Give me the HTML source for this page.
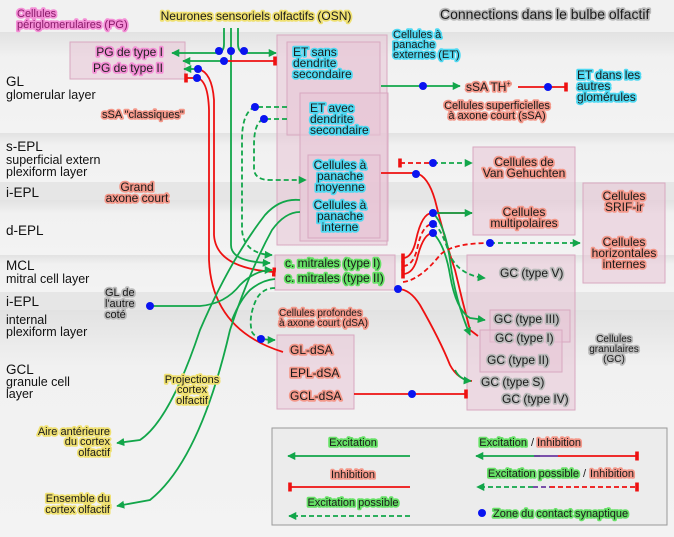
<!DOCTYPE html>
<html><head><meta charset="utf-8"><style>
html,body{margin:0;padding:0;background:#efefef}
svg{display:block}
text{font-family:"Liberation Sans",sans-serif;font-size:11px;fill:#1a1a1a}
.g{paint-order:stroke;stroke-width:3.5px;stroke-linejoin:round}
.pk{stroke:#f48fd6;fill:#8a1a6a}
.ye{stroke:#efe070}
.cy{stroke:#4fd9f2}
.gr{stroke:#66e066}
.sa{stroke:#f3988a}
.gy{stroke:#bbbbbb}
.lay{font-size:13.5px;fill:#111}
.lay2{font-size:12.5px;fill:#111}
.box{fill:#e8c4d6;fill-opacity:.55;stroke:#d8a8c0;stroke-width:1}
.ge{stroke:#12a64a;stroke-width:1.8;fill:none}
.rd{stroke:#ee1111;stroke-width:1.8;fill:none}
.dg{stroke:#12a64a;stroke-width:1.8;fill:none;stroke-dasharray:5 3}
.dr{stroke:#ee1111;stroke-width:1.8;fill:none;stroke-dasharray:5 3}
</style></head><body>
<svg width="674" height="537" viewBox="0 0 674 537" xmlns="http://www.w3.org/2000/svg">
<defs>
<linearGradient id="bg" x1="0" y1="0" x2="0" y2="1"><stop offset="0" stop-color="#e2e2e2"/><stop offset=".25" stop-color="#f1f1f1"/><stop offset="1" stop-color="#f3f3f3"/></linearGradient>
<marker id="ag" viewBox="0 0 10 10" refX="9" refY="5" markerWidth="4.5" markerHeight="4.5" orient="auto"><path d="M0 0L10 5L0 10z" fill="#12a64a"/></marker>
<marker id="tr" viewBox="0 0 4 10" refX="2" refY="5" markerWidth="2" markerHeight="5" orient="auto"><rect x="0" y="0" width="4" height="10" fill="#ee1111"/></marker>
</defs>
<rect width="674" height="537" fill="#f0f0f0"/>
<rect x="0" y="0" width="674" height="32" fill="#f1f1f1"/>
<rect x="0" y="32" width="674" height="101" fill="url(#bg)"/>
<rect x="0" y="133" width="674" height="49" fill="url(#bg)"/>
<rect x="0" y="182" width="674" height="18" fill="#e6e6e6"/>
<rect x="0" y="200" width="674" height="55" fill="url(#bg)"/>
<rect x="0" y="255" width="674" height="37" fill="url(#bg)"/>
<rect x="0" y="292" width="674" height="18" fill="#e6e6e6"/>
<rect x="0" y="310" width="674" height="227" fill="url(#bg)"/>

<!-- layer labels -->
<text x="6" y="86" class="lay">GL</text><text x="6" y="99" class="lay2">glomerular layer</text>
<text x="6" y="151" class="lay">s-EPL</text><text x="6" y="164" class="lay2">superficial extern</text><text x="6" y="176" class="lay2">plexiform layer</text>
<text x="6" y="197" class="lay">i-EPL</text>
<text x="6" y="235" class="lay">d-EPL</text>
<text x="6" y="270" class="lay">MCL</text><text x="6" y="283" class="lay2">mitral cell layer</text>
<text x="6" y="306" class="lay">i-EPL</text>
<text x="6" y="324" class="lay2">internal</text><text x="6" y="336" class="lay2">plexiform layer</text>
<text x="6" y="374" class="lay">GCL</text><text x="6" y="386" class="lay2">granule cell</text><text x="6" y="398" class="lay2">layer</text>

<!-- boxes -->
<rect x="70" y="42" width="115" height="37" class="box"/>
<rect x="277" y="35" width="110" height="210" class="box"/>
<rect x="287" y="42" width="93" height="93" class="box"/>
<rect x="300" y="93" width="88" height="148" class="box"/>
<rect x="308" y="155" width="72" height="83" class="box"/>
<rect x="473" y="147" width="102" height="88" class="box"/>
<rect x="583" y="183" width="82" height="100" class="box"/>
<rect x="275" y="255" width="120" height="35" class="box"/>
<rect x="467" y="255" width="108" height="155" class="box"/>
<rect x="490" y="310" width="80" height="32" class="box"/>
<rect x="480" y="330" width="82" height="42" class="box"/>
<rect x="277" y="335" width="77" height="74" class="box"/>
<rect x="272" y="428" width="395" height="97" fill="#ececec" stroke="#999" stroke-width="1"/>

<!-- connections -->
<path d="M224 28V44Q224 53 216 53H172" class="ge" marker-end="url(#ag)"/>
<path d="M238 28V44Q238 53 246 53H276" class="ge" marker-end="url(#ag)"/>
<path d="M231 28V245Q231 262 270 263" class="ge" marker-end="url(#ag)"/>
<path d="M224 61H183" class="ge" marker-end="url(#ag)"/>
<path d="M224 61H275" class="rd" marker-end="url(#tr)"/>
<path d="M198 69H184" class="ge" marker-end="url(#ag)"/>
<path d="M198 78H186" class="rd" marker-end="url(#tr)"/>
<path d="M198 69Q212 72 214 100V235Q216 268 274 272" class="rd" marker-end="url(#tr)"/>
<path d="M197 78Q208 80 209 110V260Q212 330 283 352" class="rd"/>
<path d="M287 107H255Q242 112 242 140V230Q244 254 272 255" class="dg" marker-end="url(#ag)"/>
<path d="M287 119H264Q254 122 254 145V168Q254 180 270 180H306" class="dg" marker-end="url(#ag)"/>
<path d="M381 86H460" class="ge" marker-end="url(#ag)"/>
<path d="M518 87H566" class="rd" marker-end="url(#tr)"/>
<!-- panache interne to projections -->
<path d="M300 200Q280 198 265 215Q230 260 200 330Q170 420 140 440L117 443" class="ge" marker-end="url(#ag)"/>
<path d="M300 212Q285 212 272 230Q250 270 230 330Q200 460 150 500L117 506" class="ge" marker-end="url(#ag)"/>
<path d="M275 279Q262 280 250 290Q240 300 232 320" class="ge"/>
<path d="M150 306H200Q225 304 240 285Q255 270 272 270" class="ge" marker-end="url(#ag)"/>
<path d="M275 288Q262 288 256 300Q248 318 252 332Q256 340 275 340" class="dg" marker-end="url(#ag)"/>
<!-- right side of mitrals -->
<path d="M400 163H433" class="dr" marker-start="url(#tr)"/>
<path d="M433 163H472" class="dg" marker-end="url(#ag)"/>
<path d="M381 173H416Q428 176 435 200Q445 240 455 270Q462 300 470 330L478 336" class="rd"/>
<path d="M403 258Q412 258 416 240Q422 212 433 213H472" class="rd" marker-start="url(#tr)"/>
<path d="M433 213H472" class="ge" marker-end="url(#ag)"/>
<path d="M403 266Q414 266 418 245Q423 224 433 224" class="dr" marker-start="url(#tr)"/>
<path d="M403 274Q414 274 418 255Q424 233 433 233" class="rd" marker-start="url(#tr)"/>
<path d="M433 224Q440 226 448 250Q456 275 485 278" class="dg" marker-end="url(#ag)"/>
<path d="M433 233Q445 245 450 275Q456 310 470 318L485 320" class="ge" marker-end="url(#ag)"/>
<path d="M433 213Q445 225 450 260Q455 300 470 335" class="ge" marker-end="url(#ag)"/>
<path d="M403 282Q420 280 440 255Q452 243 490 243" class="dr"/>
<path d="M490 243H580" class="dg" marker-end="url(#ag)"/>
<path d="M398 289Q410 289 420 305Q440 340 450 365Q458 380 472 381" class="rd"/>
<path d="M455 370Q460 380 471 381" class="ge" marker-end="url(#ag)"/>
<path d="M354 394H466" class="rd" marker-end="url(#tr)"/>

<!-- dots -->
<g fill="#0a14f0">
<circle cx="219" cy="51" r="4"/><circle cx="231" cy="51" r="4"/><circle cx="244" cy="51" r="4"/><circle cx="224" cy="61" r="4"/>
<circle cx="198" cy="69" r="4"/><circle cx="197" cy="78" r="4"/>
<circle cx="255" cy="107" r="4"/><circle cx="264" cy="119" r="4"/>
<circle cx="423" cy="86" r="4"/><circle cx="548" cy="87" r="4"/>
<circle cx="433" cy="163" r="4"/><circle cx="416" cy="174" r="4"/>
<circle cx="433" cy="213" r="4"/><circle cx="433" cy="224" r="4"/><circle cx="433" cy="233" r="4"/>
<circle cx="490" cy="243" r="4"/><circle cx="398" cy="289" r="4"/>
<circle cx="150" cy="306" r="4"/><circle cx="261" cy="339" r="4"/><circle cx="412" cy="394" r="4"/>
</g>

<!-- labels -->
<text x="17" y="17" class="g pk">Cellules</text><text x="17" y="28" class="g pk">périglomerulaires (PG)</text>
<text x="256" y="20" text-anchor="middle" class="g ye" style="font-size:12px">Neurones sensoriels olfactifs (OSN)</text>
<text x="440" y="19" class="g gy" style="font-size:14px">Connections dans le bulbe olfactif</text>
<text x="163" y="56" text-anchor="end" class="g pk" style="font-size:12px;fill:#222">PG de type I</text>
<text x="163" y="72" text-anchor="end" class="g pk" style="font-size:12px;fill:#222">PG de type II</text>
<text x="293" y="56" class="g cy" style="font-size:12px">ET sans</text><text x="293" y="67" class="g cy" style="font-size:12px">dendrite</text><text x="293" y="78" class="g cy" style="font-size:12px">secondaire</text>
<text x="393" y="38" class="g cy">Cellules à</text><text x="393" y="48" class="g cy">panache</text><text x="393" y="58" class="g cy">externes (ET)</text>
<text x="310" y="112" class="g cy" style="font-size:12px">ET avec</text><text x="310" y="123" class="g cy" style="font-size:12px">dendrite</text><text x="310" y="134" class="g cy" style="font-size:12px">secondaire</text>
<g text-anchor="middle" style="font-size:12px">
<text x="340" y="169" class="g cy" style="font-size:12px">Cellules à</text><text x="340" y="180" class="g cy" style="font-size:12px">panache</text><text x="340" y="191" class="g cy" style="font-size:12px">moyenne</text>
<text x="340" y="209" class="g cy" style="font-size:12px">Cellules à</text><text x="340" y="220" class="g cy" style="font-size:12px">panache</text><text x="340" y="231" class="g cy" style="font-size:12px">interne</text>
</g>
<text x="466" y="91" class="g sa" style="font-size:12px">sSA TH<tspan dy="-5" style="font-size:7px">+</tspan></text>
<text x="577" y="79" class="g cy" style="font-size:12px">ET dans les</text><text x="577" y="90" class="g cy" style="font-size:12px">autres</text><text x="577" y="101" class="g cy" style="font-size:12px">glomérules</text>
<text x="497" y="109" text-anchor="middle" class="g sa">Cellules superficielles</text><text x="497" y="119" text-anchor="middle" class="g sa">à axone court (sSA)</text>
<text x="102" y="118" class="g sa">sSA "classiques"</text>
<text x="137" y="191" text-anchor="middle" class="g sa" style="font-size:12px">Grand</text><text x="137" y="202" text-anchor="middle" class="g sa" style="font-size:12px">axone court</text>
<g text-anchor="middle">
<text x="524" y="166" class="g sa" style="font-size:12px">Cellules de</text><text x="524" y="177" class="g sa" style="font-size:12px">Van Gehuchten</text>
<text x="524" y="216" class="g sa" style="font-size:12px">Cellules</text><text x="524" y="227" class="g sa" style="font-size:12px">multipolaires</text>
<text x="624" y="200" class="g sa" style="font-size:12px">Cellules</text><text x="624" y="211" class="g sa" style="font-size:12px">SRIF-ir</text>
<text x="624" y="246" class="g sa" style="font-size:12px">Cellules</text><text x="624" y="257" class="g sa" style="font-size:12px">horizontales</text><text x="624" y="268" class="g sa" style="font-size:12px">internes</text>
<text x="614" y="342" class="g gy" style="font-size:10px">Cellules</text><text x="614" y="352" class="g gy" style="font-size:10px">granulaires</text><text x="614" y="362" class="g gy" style="font-size:10px">(GC)</text>
<text x="192" y="383" class="g ye">Projections</text><text x="192" y="393" class="g ye">cortex</text><text x="192" y="404" class="g ye">olfactif</text>
</g>
<text x="285" y="267" class="g gr" style="font-size:12px">c. mitrales (type I)</text>
<text x="285" y="282" class="g gr" style="font-size:12px">c. mitrales (type II)</text>
<text x="105" y="296" class="g gy">GL de</text><text x="105" y="307" class="g gy">l'autre</text><text x="105" y="318" class="g gy">coté</text>
<text x="500" y="277" class="g gy" style="font-size:12px">GC (type V)</text>
<text x="494" y="323" class="g gy" style="font-size:12px">GC (type III)</text>
<text x="495" y="342" class="g gy" style="font-size:12px">GC (type I)</text>
<text x="487" y="364" class="g gy" style="font-size:12px">GC (type II)</text>
<text x="481" y="386" class="g gy" style="font-size:12px">GC (type S)</text>
<text x="502" y="403" class="g gy" style="font-size:12px">GC (type IV)</text>
<text x="279" y="316" class="g sa" style="font-size:10px">Cellules profondes</text><text x="279" y="326" class="g sa" style="font-size:10px">à axone court (dSA)</text>
<text x="290" y="354" class="g sa" style="font-size:12px">GL-dSA</text>
<text x="290" y="377" class="g sa" style="font-size:12px">EPL-dSA</text>
<text x="290" y="400" class="g sa" style="font-size:12px">GCL-dSA</text>
<g text-anchor="end">
<text x="110" y="435" class="g ye">Aire antérieure</text><text x="110" y="445" class="g ye">du cortex</text><text x="110" y="456" class="g ye">olfactif</text>
<text x="110" y="502" class="g ye">Ensemble du</text><text x="110" y="513" class="g ye">cortex olfactif</text>
</g>

<!-- legend -->
<text x="353" y="446" text-anchor="middle" class="g gr">Excitation</text>
<path d="M410 456H288" class="ge" marker-end="url(#ag)"/>
<text x="353" y="478" text-anchor="middle" class="g sa">Inhibition</text>
<path d="M410 487H290" class="rd" marker-end="url(#tr)"/>
<text x="353" y="506" text-anchor="middle" class="g gr">Excitation possible</text>
<path d="M410 516H289" class="dg" marker-end="url(#ag)"/>
<text x="527" y="446" text-anchor="end" class="g gr">Excitation</text><text x="531" y="446">/</text><text x="537" y="446" class="g sa">Inhibition</text>
<path d="M540 456H476" class="ge" marker-end="url(#ag)"/><path d="M534 456H558" stroke="#6a3aa0" stroke-width="1.8"/><path d="M558 456H637" class="rd" marker-end="url(#tr)"/>
<text x="579" y="477" text-anchor="end" class="g gr">Excitation possible</text><text x="583" y="477">/</text><text x="590" y="477" class="g sa">Inhibition</text>
<path d="M533 487H477" class="dg" marker-end="url(#ag)"/><path d="M533 487H550" stroke="#6a3aa0" stroke-width="1.8" stroke-dasharray="5 3"/><path d="M550 487H637" class="dr" marker-end="url(#tr)"/>
<circle cx="482" cy="513" r="4" fill="#0a14f0"/>
<text x="493" y="517" class="g gr">Zone du contact synaptique</text>
</svg>
</body></html>
